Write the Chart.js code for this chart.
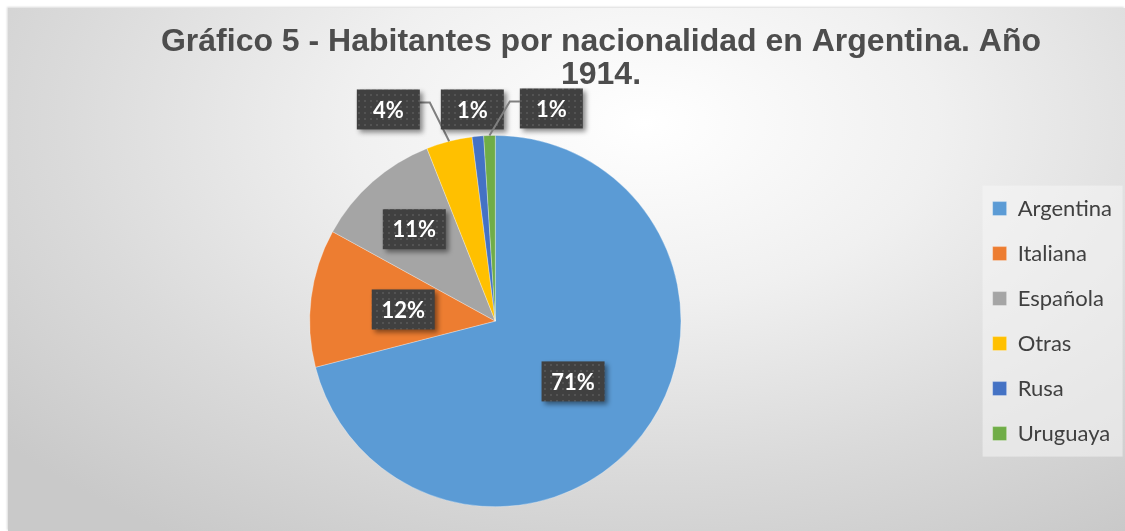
<!DOCTYPE html>
<html lang="es">
<head>
  <meta charset="UTF-8">
  <title>Gráfico 5</title>
  <script src="https://cdn.jsdelivr.net/npm/chart.js"></script>
  <style>
    html, body { margin: 0; padding: 0; background: #fff; }
    .chart-box {
      position: absolute; left: 8px; top: 8px; width: 1117px; height: 523px;
      background: radial-gradient(ellipse 75% 95% at 57% 22%, #ffffff 0%, #f0f0f0 35%, #dadada 70%, #c9c9c9 100%);
      box-shadow: -1px -1px 2px rgba(0,0,0,0.15);
    }
  </style>
</head>
<body>
  <div class="chart-box"><canvas id="pieChart" width="1117" height="523"></canvas></div>

  <script>
    const categories = ["Argentina", "Italiana", "Española", "Otras", "Rusa", "Uruguaya"];
    const percents = [71, 12, 11, 4, 1, 1];
    const colors = ["#5B9BD5", "#ED7D31", "#A5A5A5", "#FFC000", "#4472C4", "#70AD47"];

    // dark dotted pattern for the label boxes
    function dotPattern(ctx) {
      const p = document.createElement("canvas");
      p.width = 6; p.height = 6;
      const c = p.getContext("2d");
      c.fillStyle = "#404040";
      c.fillRect(0, 0, 6, 6);
      c.fillStyle = "#535353";
      c.fillRect(2, 2, 2, 2);
      return ctx.createPattern(p, "repeat");
    }

    // title sits right of the canvas centre in the original
    const titleShift = {
      id: "titleShift",
      afterLayout(chart) {
        const t = chart.titleBlock;
        const dx = 593 - (t.left + t.right) / 2;
        t.left += dx;
        t.right += dx;
      }
    };

    const legendBg = {
      id: "legendBg",
      beforeDraw(chart) {
        const lg = chart.legend;
        if (!lg || !lg.legendHitBoxes.length) return;
        const hb = lg.legendHitBoxes;
        const first = hb[0], last = hb[hb.length - 1];
        const ctx = chart.ctx;
        ctx.save();
        ctx.fillStyle = "rgba(245,245,245,0.55)";
        ctx.fillRect(first.left - 10, first.top - 12, 140, last.top + last.height - first.top + 24);
        ctx.restore();
      }
    };

    const boxLabels = {
      id: "boxLabels",
      afterDatasetsDraw(chart, args, opts) {
        const ctx = chart.ctx;
        const meta = chart.getDatasetMeta(0);
        const pattern = dotPattern(ctx);
        ctx.save();
        ctx.font = "bold 22px Lato";
        ctx.textAlign = "center";
        ctx.textBaseline = "middle";
        meta.data.forEach((arc, i) => {
          const v = chart.data.datasets[0].data[i];
          const mid = (arc.startAngle + arc.endAngle) / 2;
          let x, y;
          const outside = opts.outside[i];
          if (outside) {
            x = arc.x + outside.dx;
            y = arc.y - arc.outerRadius - outside.up;
          } else {
            const r = arc.outerRadius * opts.fraction[i];
            x = arc.x + Math.cos(mid) * r;
            y = arc.y + Math.sin(mid) * r;
          }
          const w = 63, h = 40;
          // leader line
          if (outside && outside.line) {
            const ex = arc.x + Math.cos(mid) * arc.outerRadius;
            const ey = arc.y + Math.sin(mid) * arc.outerRadius;
            const sx = outside.line < 0 ? x - w / 2 : x + w / 2;
            const ly = y - 7;
            ctx.strokeStyle = "#7f7f7f";
            ctx.lineWidth = 2;
            ctx.beginPath();
            ctx.moveTo(sx, ly);
            ctx.lineTo(sx + outside.line * 10, ly);
            ctx.lineTo(ex, ey);
            ctx.stroke();
          }
          ctx.save();
          ctx.shadowColor = "rgba(0,0,0,0.45)";
          ctx.shadowBlur = 5;
          ctx.shadowOffsetX = 3;
          ctx.shadowOffsetY = 3;
          ctx.fillStyle = pattern;
          ctx.fillRect(x - w / 2, y - h / 2, w, h);
          ctx.restore();
          ctx.fillStyle = "#ffffff";
          ctx.fillText(v + "%", x, y + 1);
        });
        ctx.restore();
      }
    };

    new Chart(document.getElementById("pieChart"), {
      type: "pie",
      data: {
        labels: categories,
        datasets: [{
          data: percents,
          backgroundColor: colors,
          borderWidth: 0.5,
          borderColor: "rgba(255,255,255,0.6)"
        }]
      },
      options: {
        responsive: false,
        animation: false,
        layout: { padding: { left: 13, right: 3, top: 0, bottom: 24 } },
        plugins: {
          title: {
            display: true,
            text: ["Gráfico 5 - Habitantes por nacionalidad en Argentina. Año", "1914."],
            color: "#4d4d4d",
            font: { family: "'Liberation Sans', Arial", size: 32, weight: "bold", lineHeight: 1.05 },
            padding: { top: 17, bottom: 43 }
          },
          legend: {
            position: "right",
            fullSize: false,
            labels: {
              boxWidth: 14,
              boxHeight: 14,
              padding: 23,
              color: "#404040",
              font: { family: "Lato", size: 22 }
            }
          },
          tooltip: { enabled: false },
          boxLabels: {
            fraction: [0.53, 0.5, 0.66],
            outside: [null, null, null,
              { dx: -107, up: 26, line: 1 },
              { dx: -23, up: 26, line: 0 },
              { dx: 56, up: 27, line: -1 }]
          }
        }
      },
      plugins: [titleShift, legendBg, boxLabels]
    });
  </script>
</body>
</html>
